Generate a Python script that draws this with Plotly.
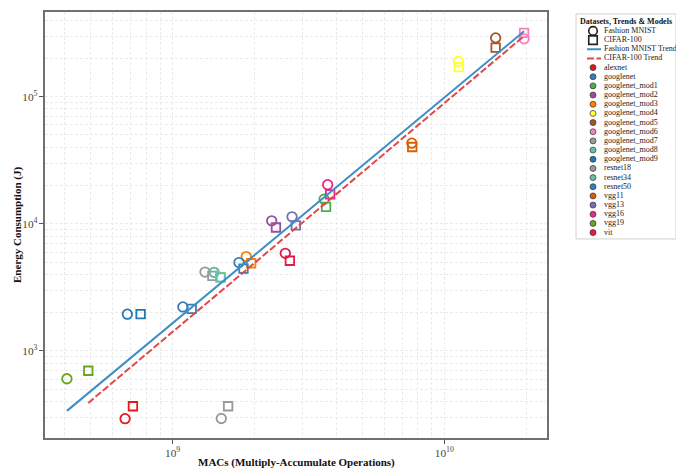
import numpy as np
import plotly.graph_objects as go

# ---------------- data ----------------
models = ["alexnet", "googlenet", "googlenet_mod1", "googlenet_mod2", "googlenet_mod3",
          "googlenet_mod4", "googlenet_mod5", "googlenet_mod6", "googlenet_mod7",
          "googlenet_mod8", "googlenet_mod9", "resnet18", "resnet34", "resnet50",
          "vgg11", "vgg13", "vgg16", "vgg19", "vit"]
model_colors = ["#e41a1c", "#377eb8", "#4daf4a", "#984ea3", "#ff7f00",
                "#ffff33", "#a65628", "#f781bf", "#999999",
                "#66c2a5", "#1f78b4", "#999999", "#66c2a5", "#3182bd",
                "#d95f02", "#7570b3", "#e7298a", "#66a61e", "#e31a4c"]

fashion_macs = [6.68e8, 1.09e9, 3.61e9, 2.315e9, 1.866e9,
                1.127e10, 1.545e10, 1.966e10, 1.315e9,
                1.42e9, 6.81e8, 1.51e9, 1.42e9, 1.754e9,
                7.59e9, 2.75e9, 3.72e9, 4.08e8, 2.598e9]
fashion_energy = [293, 2218, 15600, 10550, 5520,
                  190000, 290000, 285000, 4170,
                  4150, 1945, 294, 4150, 4955,
                  43100, 11350, 20300, 604, 5862]
cifar_macs = [7.14e8, 1.175e9, 3.67e9, 2.40e9, 1.945e9,
              1.13e10, 1.545e10, 1.966e10, 1.40e9,
              1.50e9, 7.62e8, 1.60e9, 1.50e9, 1.823e9,
              7.62e9, 2.84e9, 3.80e9, 4.89e8, 2.70e9]
cifar_energy = [367, 2140, 13580, 9350, 4895,
                170600, 243000, 318000, 3900,
                3785, 1945, 367, 3785, 4446,
                40200, 9700, 17060, 698, 5118]

# log10(E) = slope * log10(MACs) + intercept
fashion_trend = {"slope": 1.774, "intercept": -12.747}
cifar_trend = {"slope": 1.799, "intercept": -13.041}

legend_title = "Datasets, Trends &amp; Models"
legend_entries = ["Fashion MNIST", "CIFAR-100", "Fashion MNIST Trend", "CIFAR-100 Trend"] + models

# ---------------- styling / geometry ----------------
SERIF = "Liberation Serif"
BLUE = "#3d8ec6"
RED = "#e2474a"

OFF = 8                     # page body margin of the html page
W, H = 684 - OFF, 473 - OFF
# positions below are given in page pixels, converted to figure pixels
PL, PR, PT, PB = 45 - OFF, 547 - OFF, 10 - OFF, 438 - OFF
LEG_L, LEG_R, LEG_T, LEG_B = 576 - OFF, 676 - OFF, 12 - OFF, 238 - OFF
ML, MR, MT, MB = PL, W - LEG_R, PT, H - PB
PW, PH = W - ML - MR, H - MT - MB


def px_x(p):
    return (p - ML) / PW


def px_y(p):
    return (H - MB - p) / PH


fig = go.Figure()

# data markers
fig.add_trace(go.Scatter(
    x=fashion_macs, y=fashion_energy, mode="markers", showlegend=False,
    marker=dict(symbol="circle", size=9.5, color="rgba(0,0,0,0)",
                line=dict(color=model_colors, width=1.8))))
fig.add_trace(go.Scatter(
    x=cifar_macs, y=cifar_energy, mode="markers", showlegend=False,
    marker=dict(symbol="square", size=8.5, color="rgba(0,0,0,0)",
                line=dict(color=model_colors, width=1.8))))


def trend(xs, tr):
    lx = np.log10([min(xs), max(xs)])
    return 10 ** lx, 10 ** (tr["slope"] * lx + tr["intercept"])


fx, fy = trend(fashion_macs, fashion_trend)
cx, cy = trend(cifar_macs, cifar_trend)
fig.add_trace(go.Scatter(x=fx, y=fy, mode="lines", showlegend=False,
                         line=dict(color=BLUE, width=2)))
fig.add_trace(go.Scatter(x=cx, y=cy, mode="lines", showlegend=False,
                         line=dict(color=RED, width=2, dash="7px,2.5px")))

# ---------------- custom legend (in its own pixel-unit axes) ----------------
ROW0, STEP = 29.0 - OFF, 9.21
rows = [ROW0 + i * STEP for i in range(len(legend_entries))]
MX = 593 - OFF
TX = 604 - OFF

fig.add_trace(go.Scatter(x=[MX], y=[rows[0]], mode="markers", xaxis="x2", yaxis="y2",
                         showlegend=False,
                         marker=dict(symbol="circle", size=8.5, color="rgba(0,0,0,0)",
                                     line=dict(color="#222", width=1.6))))
fig.add_trace(go.Scatter(x=[MX], y=[rows[1]], mode="markers", xaxis="x2", yaxis="y2",
                         showlegend=False,
                         marker=dict(symbol="square", size=8.5, color="rgba(0,0,0,0)",
                                     line=dict(color="#222", width=1.6))))
fig.add_trace(go.Scatter(x=[MX - 6, MX + 8], y=[rows[2], rows[2]], mode="lines",
                         xaxis="x2", yaxis="y2", showlegend=False,
                         line=dict(color=BLUE, width=2)))
fig.add_trace(go.Scatter(x=[MX - 6, MX + 8], y=[rows[3], rows[3]], mode="lines",
                         xaxis="x2", yaxis="y2", showlegend=False,
                         line=dict(color=RED, width=2, dash="7px,2.5px")))
fig.add_trace(go.Scatter(x=[MX] * len(models), y=rows[4:], mode="markers",
                         xaxis="x2", yaxis="y2", showlegend=False,
                         marker=dict(symbol="circle", size=6, color=model_colors,
                                     line=dict(color="#333", width=0.7))))
fig.add_trace(go.Scatter(x=[TX] * len(legend_entries), y=rows, mode="text",
                         text=legend_entries, textposition="middle right",
                         xaxis="x2", yaxis="y2", showlegend=False,
                         textfont=dict(family=SERIF, size=8, color="#222")))

fig.add_shape(type="rect", xref="x2 domain", yref="y2 domain", x0=0, x1=1, y0=0, y1=1,
              line=dict(color="#d0d0d0", width=1), fillcolor="white", layer="below")

grid = dict(gridcolor="#ebebeb", griddash="3px,2px", gridwidth=0.8)
axis_common = dict(
    type="log", dtick=1, exponentformat="power", showexponent="all",
    showline=True, linecolor="#707070", linewidth=1.5, mirror=True,
    ticks="outside", ticklen=4, tickcolor="#555", tickwidth=1,
    tickfont=dict(family=SERIF, size=9, color="#444"),
    showgrid=True, zeroline=False, **grid,
    minor=dict(dtick="D1", showgrid=True, ticks="", **grid),
)

fig.update_layout(
    width=W, height=H,
    margin=dict(l=ML, r=MR, t=MT, b=MB),
    paper_bgcolor="white", plot_bgcolor="white",
    hovermode=False, showlegend=False,
    xaxis=dict(domain=[0, px_x(PR)], range=[8.530, 10.378], anchor="y", **axis_common),
    yaxis=dict(domain=[0, 1], range=[2.315, 5.666], anchor="x", **axis_common),
    xaxis2=dict(domain=[px_x(LEG_L), px_x(LEG_R)], range=[LEG_L, LEG_R], anchor="y2",
                visible=False, fixedrange=True),
    yaxis2=dict(domain=[px_y(LEG_B), px_y(LEG_T)], range=[LEG_B, LEG_T], anchor="x2",
                visible=False, fixedrange=True),
    font=dict(family=SERIF),
    annotations=[
        dict(text="<b>" + legend_title + "</b>", xref="x2", yref="y2",
             x=(LEG_L + LEG_R) / 2, y=19.5 - OFF, showarrow=False,
             font=dict(family=SERIF, size=8, color="#111")),
        dict(text="<b>MACs (Multiply-Accumulate Operations)</b>", xref="paper", yref="paper",
             x=px_x((PL + PR) / 2), y=px_y(463 - OFF), showarrow=False,
             xanchor="center", yanchor="middle",
             font=dict(family=SERIF, size=11, color="#111")),
        dict(text="<b>Energy Consumption (J)</b>", xref="paper", yref="paper",
             x=px_x(17 - OFF), y=px_y((PT + PB) / 2), showarrow=False, textangle=-90,
             xanchor="center", yanchor="middle",
             font=dict(family=SERIF, size=11, color="#111")),
    ],
)

fig.write_html("out.html")
